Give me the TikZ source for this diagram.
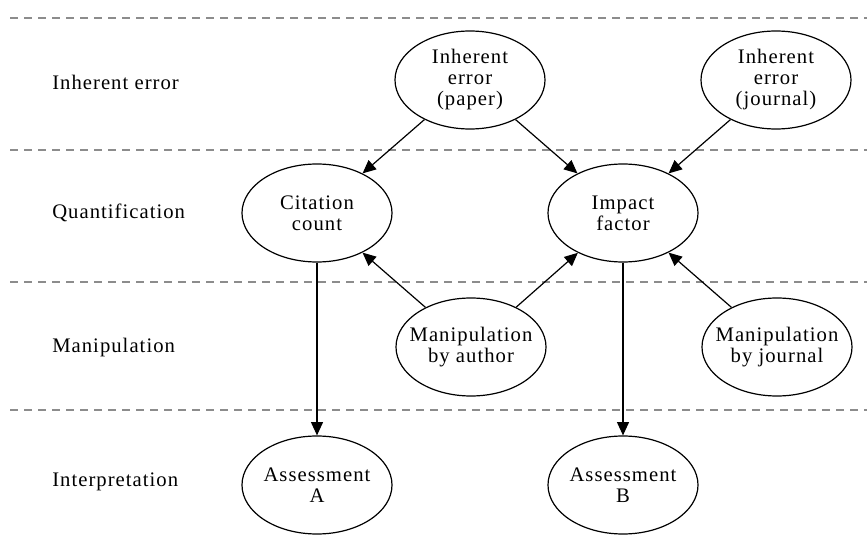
\documentclass[tikz,border=0pt]{standalone}
\usepackage{fontspec}
\setmainfont[LetterSpace=5]{Liberation Serif}
\usetikzlibrary{arrows.meta,shapes.geometric}
\begin{document}
\begin{tikzpicture}[x=0.75pt,y=-0.75pt,
  txt/.style={font=\fontsize{15.5}{15.75}\selectfont},
  state/.style={draw,ellipse,line width=0.9pt,minimum width=112.5pt,minimum height=73.5pt,
    inner xsep=-30pt,inner ysep=0pt,align=center,txt},
  level/.style={txt,anchor=west,inner sep=0pt},
  sep/.style={draw=black!45,line width=0.9pt,dash pattern=on 6pt off 4.5pt},
  edge/.style={line width=0.9pt,-{Triangle[length=10pt,width=9pt]}}]
\useasboundingbox (0,0) rectangle (867,541);
% level separators
\coordinate (s1l) at (10,18);  \coordinate (s1r) at (867,18);
\coordinate (s2l) at (10,150); \coordinate (s2r) at (867,150);
\coordinate (s3l) at (10,282); \coordinate (s3r) at (867,282);
\coordinate (s4l) at (10,410); \coordinate (s4r) at (867,410);
\draw[sep] (s1l) -- (s1r);
\draw[sep] (s2l) -- (s2r);
\draw[sep] (s3l) -- (s3r);
\draw[sep] (s4l) -- (s4r);
% level labels
\node[level] (l1) at (52,82)  {Inherent error};
\node[level] (l2) at (52,213) {Quantification};
\node[level] (l3) at (52,348) {Manipulation};
\node[level] (l4) at (52,482) {Interpretation};
% states
\node[state] (iep) at (470,80)  {Inherent\\error\\(paper)};
\node[state] (iej) at (776,80)  {Inherent\\error\\(journal)};
\node[state] (cc)  at (317,213) {Citation\\count};
\node[state] (ifa) at (623,213) {Impact\\factor};
\node[state] (ma)  at (471,347) {Manipulation\\by author};
\node[state] (mj)  at (777,347) {Manipulation\\by journal};
\node[state] (aa)  at (317,485) {Assessment\\A};
\node[state] (ab)  at (623,485) {Assessment\\B};
% influences
\draw[edge] (iep) -- (cc);
\draw[edge] (iep) -- (ifa);
\draw[edge] (iej) -- (ifa);
\draw[edge] (ma) -- (cc);
\draw[edge] (ma) -- (ifa);
\draw[edge] (mj) -- (ifa);
\draw[edge] (cc) -- (aa);
\draw[edge] (ifa) -- (ab);
\end{tikzpicture}
\end{document}
